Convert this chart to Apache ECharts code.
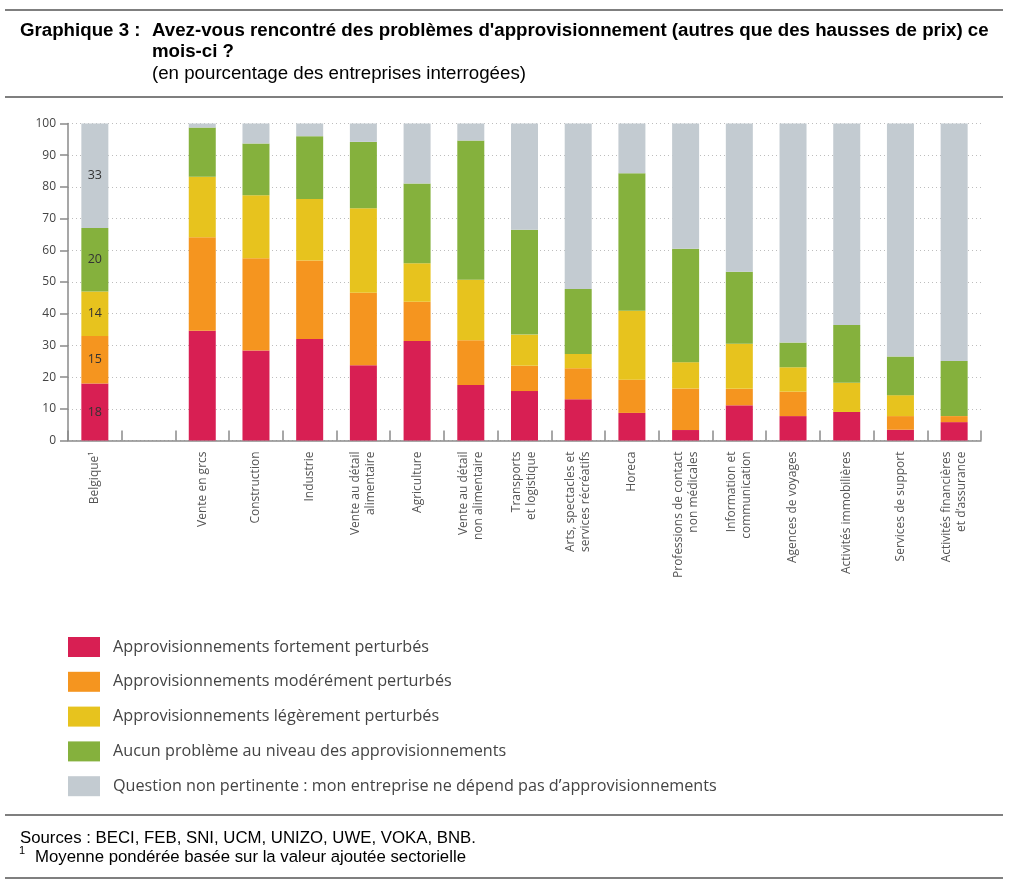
<!DOCTYPE html>
<html>
<head>
<meta charset="utf-8">
<script src="https://cdn.jsdelivr.net/npm/echarts@6/dist/echarts.min.js"></script>
<style>
  html, body { margin: 0; padding: 0; background: #fff; }
  #chart { width: 1013px; height: 892px; }
</style>
</head>
<body>
<div id="chart"></div>
<script>
const categories = ['Belgique\u00b9', '', 'Vente en grcs', 'Construction', 'Industrie',
  'Vente au d\u00e9tail\nalimentaire', 'Agriculture', 'Vente au d\u00e9tail\nnon alimentaire',
  'Transports\net logistique', 'Arts, spectacles et\nservices r\u00e9cr\u00e9atifs', 'Horeca',
  'Professions de contact\nnon m\u00e9dicales', 'Information et\ncommunication',
  'Agences de voyages', 'Activit\u00e9s immobili\u00e8res', 'Services de support',
  'Activit\u00e9s financi\u00e8res\net d\u2019assurance'];

const seriesNames = [
  'Approvisionnements fortement perturb\u00e9s',
  'Approvisionnements mod\u00e9r\u00e9ment perturb\u00e9s',
  'Approvisionnements l\u00e9g\u00e8rement perturb\u00e9s',
  'Aucun probl\u00e8me au niveau des approvisionnements',
  'Question non pertinente : mon entreprise ne d\u00e9pend pas d\u2019approvisionnements'
];

const fortement    = [18, null, 34.6, 28.4, 32.0, 23.7, 31.4, 17.5, 15.6, 13.0, 8.7, 3.3, 11.1, 7.7, 9.0, 3.4, 5.8];
const moderement   = [15, null, 29.5, 29.1, 24.8, 22.9, 12.4, 14.1, 8.0, 9.8, 10.5, 13.1, 5.2, 7.7, 0, 4.3, 1.9];
const legerement   = [14, null, 19.1, 19.9, 19.4, 26.7, 12.1, 19.1, 9.8, 4.5, 21.7, 8.3, 14.2, 7.7, 9.2, 6.6, 0];
const aucun        = [20, null, 15.5, 16.3, 19.8, 20.9, 25.2, 43.9, 33.1, 20.5, 43.4, 35.8, 22.7, 7.8, 18.2, 12.2, 17.4];
const nonPertinent = [33, null, 1.3, 6.3, 4.0, 5.8, 18.9, 5.4, 33.5, 52.2, 15.7, 39.5, 46.8, 69.1, 63.6, 73.5, 74.9];

const yTicks = { min: 0, max: 100, interval: 10 };

const colors = ['#d81f53', '#f5951f', '#e7c31e', '#85b13d', '#c3cbd1'];
const allData = [fortement, moderement, legerement, aucun, nonPertinent];

const chart = echarts.init(document.getElementById('chart'), null, { renderer: 'canvas' });

const series = allData.map((d, i) => ({
  name: seriesNames[i],
  type: 'bar',
  stack: 'total',
  barWidth: 27,
  data: d,
  itemStyle: { color: colors[i] },
  label: {
    show: true,
    position: 'inside',
    color: '#333',
    fontSize: 12.5,
    fontFamily: 'Open Sans',
    formatter: p => (p.dataIndex === 0 ? String(p.value) : '')
  },
  emphasis: { disabled: true }
}));

const titleFont = 'bold 18.7px "Liberation Sans", Arial, sans-serif';
const normFont = '18.7px "Liberation Sans", Arial, sans-serif';
const footFont = '16.8px "Liberation Sans", Arial, sans-serif';

chart.setOption({
  animation: false,
  backgroundColor: '#fff',
  color: colors,
  grid: { left: 68, right: 32, top: 123.5, height: 317, containLabel: false },
  xAxis: {
    type: 'category',
    data: categories,
    boundaryGap: true,
    axisLine: { lineStyle: { color: '#8a8a8a', width: 1.5 } },
    axisTick: { show: true, inside: true, length: 10, alignWithLabel: false, interval: 0, lineStyle: { color: '#8a8a8a', width: 1.5 } },
    axisLabel: { interval: 0, rotate: 90, margin: 11, fontSize: 12, color: '#555', fontFamily: 'Open Sans', lineHeight: 15 }
  },
  yAxis: {
    type: 'value',
    min: yTicks.min, max: yTicks.max, interval: yTicks.interval,
    axisLine: { show: true, lineStyle: { color: '#8a8a8a', width: 1.5 } },
    axisTick: { show: true, inside: false, length: 8, lineStyle: { color: '#8a8a8a', width: 1.5 } },
    axisLabel: { fontSize: 12, color: '#444', fontFamily: 'Open Sans', margin: 12 },
    splitLine: { show: true, lineStyle: { color: '#bdbdbd', type: [1, 3], width: 1 } }
  },
  legend: {
    orient: 'vertical',
    left: 68, top: 637,
    padding: 0,
    itemWidth: 32, itemHeight: 20, itemGap: 14.8,
    icon: 'rect',
    selectedMode: false,
    data: seriesNames,
    textStyle: { fontSize: 16.2, color: '#444', fontFamily: 'Open Sans', padding: [0, 0, 0, 8] }
  },
  graphic: [
    { type: 'line', shape: { x1: 5, y1: 10, x2: 1003, y2: 10 }, style: { stroke: '#000', lineWidth: 1.2 } },
    { type: 'text', x: 20, y: 31, style: { text: 'Graphique 3 :', font: titleFont, fill: '#000', verticalAlign: 'middle' } },
    { type: 'text', x: 152, y: 31, style: { text: 'Avez-vous rencontr\u00e9 des probl\u00e8mes d\'approvisionnement (autres que des hausses de prix) ce', font: titleFont, fill: '#000', verticalAlign: 'middle' } },
    { type: 'text', x: 152, y: 52, style: { text: 'mois-ci ?', font: titleFont, fill: '#000', verticalAlign: 'middle' } },
    { type: 'text', x: 152, y: 74, style: { text: '(en pourcentage des entreprises interrog\u00e9es)', font: normFont, fill: '#000', verticalAlign: 'middle' } },
    { type: 'line', shape: { x1: 5, y1: 97, x2: 1003, y2: 97 }, style: { stroke: '#000', lineWidth: 1.2 } },
    { type: 'line', shape: { x1: 5, y1: 815, x2: 1003, y2: 815 }, style: { stroke: '#000', lineWidth: 1.2 } },
    { type: 'text', x: 20, y: 838, style: { text: 'Sources : BECI, FEB, SNI, UCM, UNIZO, UWE, VOKA, BNB.', font: footFont, fill: '#000', verticalAlign: 'middle' } },
    { type: 'text', x: 19, y: 851, style: { text: '1', font: '11px "Liberation Sans", Arial, sans-serif', fill: '#000', verticalAlign: 'middle' } },
    { type: 'text', x: 35, y: 857, style: { text: 'Moyenne pond\u00e9r\u00e9e bas\u00e9e sur la valeur ajout\u00e9e sectorielle', font: footFont, fill: '#000', verticalAlign: 'middle' } },
    { type: 'line', shape: { x1: 5, y1: 878, x2: 1003, y2: 878 }, style: { stroke: '#000', lineWidth: 1.2 } }
  ],
  series: series
});
</script>
</body>
</html>
